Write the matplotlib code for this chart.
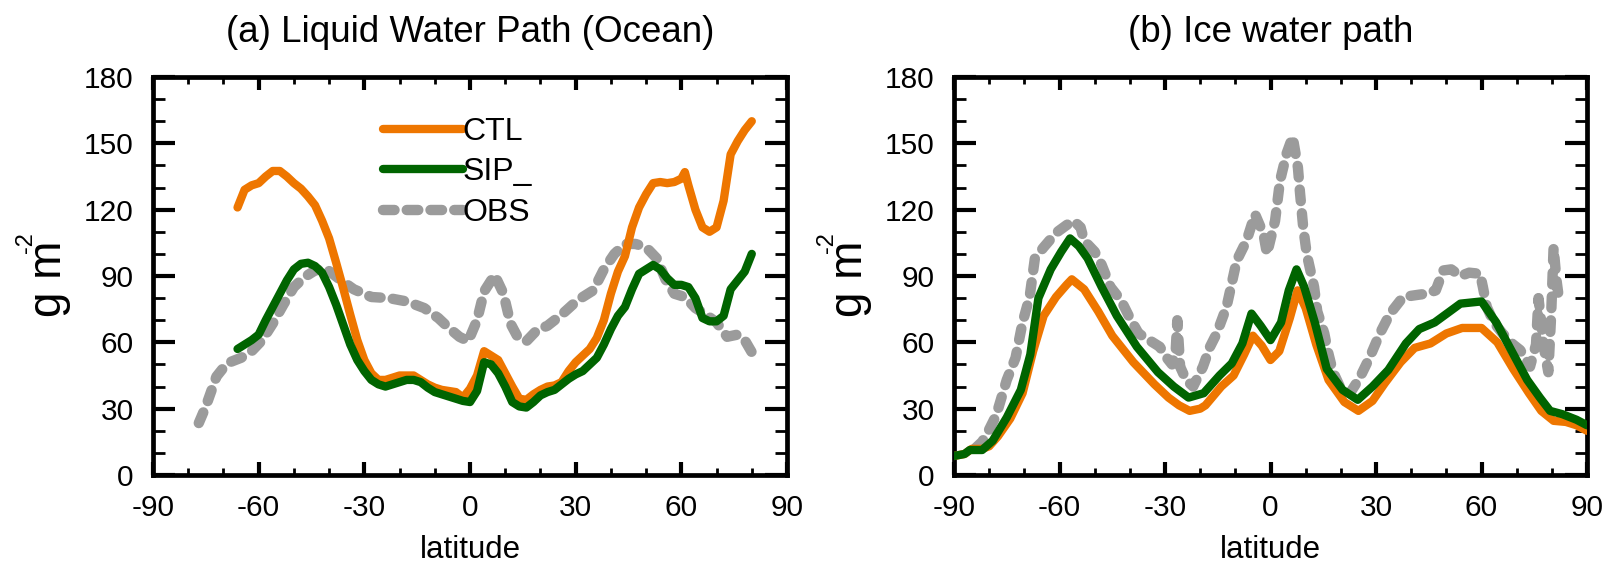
import matplotlib
matplotlib.use("Agg")
import matplotlib.pyplot as plt
from matplotlib.ticker import MultipleLocator

plt.rcParams['font.family'] = ['Liberation Sans', 'DejaVu Sans']
plt.rcParams['lines.scale_dashes'] = False

# ---------------- data: (a) Liquid Water Path (Ocean) ----------------
ctl_a_lat = [-66,-64,-62,-60,-58,-56,-54,-52,-50,-48,-46,-44,-42,-40,-38,-36,-34,-32,-30,-28,
             -26,-24,-22,-20,-18,-16,-14,-12,-10,-8,-6,-4,-2,0,2,4,6,8,10,12,14,16,18,20,22,24,
             26,28,30,32,34,36,38,40,42,44,46,48,50,52,54,56,58,60,61,62,64,66,68,70,72,74,76,78,80]
ctl_a_val = [121,129,131,132,135,137.5,137.5,135,132,129.5,126,122,115,107,96,84.5,72.5,61,52,46,
             43,43,44,45,45,45,43,41,39.5,38.5,38,37.5,35,39,45,56,54,52,46,40,34.5,34,36.5,38.5,40,40.5,
             42,47,51,54,57,62,70,82,92,99,112,121,127,132,132.5,132,132.5,134,137,131,120,112,110,112,124,145,151,156,160]

sip_a_lat = [-66,-64,-62,-60,-58,-56,-54,-52,-50,-48,-46,-44,-42,-40,-38,-36,-34,-32,-30,-28,
             -26,-24,-22,-20,-18,-16,-14,-12,-10,-8,-6,-4,-2,0,2,4,6,8,10,12,14,16,18,20,22,24,
             26,28,30,32,34,36,38,40,42,44,46,48,50,52,54,56,58,60,62,64,66,68,70,72,74,76,78,80]
sip_a_val = [57,59,61,63.5,70,76,82,88,93,95.5,96,94.5,91.5,85,77,68,59,52,47,43,
             41,40,41,42,43,43,42,39.5,37.5,36.5,35.5,34.5,33.5,33,38,51,50,46,40,33,31,30.5,33,36,37.5,38.5,
             41,43.5,45.5,47,50,53,59,66,72,76,84,91,93,95,93,89,86,86,85,80,71,69.5,69.5,72,84,88,92,100]

obs_a_lat = [-77,-75,-72,-69,-65,-62,-59,-56,-53,-50,-47,-44,-41,-37,-33,-28,-23,-18,-13,-9,
             -6,-3,-0.5,2,4,7,9.5,11.5,13.5,16,19,22,26,30.5,35,38,41,44,47,50,
             53,55.5,58,61,64,67,70,73,76,78,80]
obs_a_val = [23.5,31,44.5,50.5,53,56,61,68.5,77,85,89.5,92.5,93.5,88.5,84,80.5,80,78.5,75.5,71,
             66.5,62.5,60.5,70,83,90.5,82,68.5,62.5,60.5,65.5,67.5,72.5,79,83.5,93,100,104.5,104.5,103,
             98,88.5,82,80.5,75.5,72.5,69,62.5,63.5,61,55.5]

# ---------------- data: (b) Ice water path ----------------
ctl_b_lat = [-90,-87,-85,-82,-80,-77.5,-74,-70.5,-67.5,-64.5,-61,-58,-56.5,-53,-49,-45,-39,-33,-29,-26,
             -23,-20,-18.5,-14,-10.5,-7.5,-5,-2.5,0,2.5,5.5,7.7,10,13,16.5,21,25,29,32.5,37,
             41,45.5,50,54.5,60,64.5,69,73.5,77,80.5,84,87,90]
ctl_b_val = [8.6,9.5,11.8,11.8,13,17.5,25.5,37,56,72,80.5,86,88.5,84,74,63,51,41,35,31.5,
             29,30,31.5,40,45,54.5,63,58.5,52,56,71,83.5,75.5,59,43,33,29,33.5,41.5,51,
             57.5,59.5,64,66.5,66.5,60,48,37,29,24.5,24,22.5,20]

sip_b_lat = [-90,-87,-85.5,-82,-79,-75,-71,-68.3,-66,-62.5,-59.5,-57,-54.5,-52,-48,-43.7,-38,-32,-27.5,-23.3,
             -19,-14.5,-11,-8,-5.4,-2.8,0,3,5.2,7.4,9.6,12.6,16,20.5,24.8,29,33.5,38.5,42.3,46.7,
             51,54,60,64.2,68.6,73,76.6,79.5,83,87,90]
sip_b_val = [8.6,9.5,11.3,11.3,15.5,26,38.5,54.5,80,93,101,107,103.5,98,85,72,58,46.5,40,35,
             37,45,50.5,59.5,73,67.5,61,69,83.5,93,85,69,48,38.5,34,40,47.5,59.5,66,69,
             74,77.5,78.5,69,56,43,35,29,27.5,25,22.5]

obs_b_lat = [-84,-82,-80.5,-78,-75,-72.5,-70.5,-68.5,-67,-64.5,-61,-58,-56,-54,-53,-50,-48,-45.5,-42.5,-40,
             -37.5,-34.5,-31.5,-29.5,-28,-27,-26.5,-25.7,-24,-22,-19.2,-17.2,-15.3,-12.5,-9.6,-6.8,-4.4,-2,-1,1.3,
             2.7,4.6,6.3,7.8,8.4,9.3,10.3,12.4,13.3,15.3,16.3,17.7,20,22.6,25.4,28.3,31.1,34,37.7,42,
             44.4,47,49.1,51.4,54,56.5,59.6,60.4,61.5,63.5,66,69,71,73.8,75.5,76.2,77,77.6,79,79.8,
             80.5,81.3,82]
obs_b_val = [12,15,19,27,43,53,69,80.5,98,103,109.5,113,115,112,106,101,95,85,79,71,
             64,61,58,53,50,55,70,49,43,40,49,58,64,76,97,106,118,109,100,115,
             133,145.5,153,139,127.5,112,100,85,74,64,56,47,39,37,44,53.5,64,73,80.5,81.5,
             82,83.5,92.5,93,90,91.5,91,85,76,69,64,59,56.5,49,59,80,69,59,46.5,72,
             103,88.5,80]

titles = ["(a) Liquid Water Path (Ocean)", "(b) Ice water path"]
labels = ["CTL", "SIP_", "OBS"]
xticks = [-90, -60, -30, 0, 30, 60, 90]
yticks = [0, 30, 60, 90, 120, 150, 180]

C_CTL = "#EE7600"
C_SIP = "#006400"
C_OBS = "#9B9B9B"

W, H = 1602, 562
fig = plt.figure(figsize=(W / 100, H / 100), dpi=100)

def px_ax(left, top, right, bottom):
    return [left / W, (H - bottom) / H, (right - left) / W, (bottom - top) / H]

ax1 = fig.add_axes(px_ax(153, 77, 787, 475))
ax2 = fig.add_axes(px_ax(954, 77, 1587, 475))

panels = [
    (ax1, (ctl_a_lat, ctl_a_val), (sip_a_lat, sip_a_val), (obs_a_lat, obs_a_val)),
    (ax2, (ctl_b_lat, ctl_b_val), (sip_b_lat, sip_b_val), (obs_b_lat, obs_b_val)),
]

for i, (ax, ctl, sip, obs) in enumerate(panels):
    lo, = ax.plot(obs[0], obs[1], color=C_OBS, lw=7.5, linestyle=(0, (8.3, 8.8)),
                  dash_capstyle='round', dash_joinstyle='round', zorder=2)
    lc, = ax.plot(ctl[0], ctl[1], color=C_CTL, lw=6, solid_capstyle='round',
                  solid_joinstyle='round', zorder=3)
    ls, = ax.plot(sip[0], sip[1], color=C_SIP, lw=6, solid_capstyle='round',
                  solid_joinstyle='round', zorder=4)
    ax.set_xlim(-90, 90)
    ax.set_ylim(0, 180)
    ax.set_xticks(xticks)
    ax.set_xticklabels([str(t) for t in xticks])
    ax.set_yticks(yticks)
    ax.set_yticklabels([str(t) for t in yticks])
    ax.xaxis.set_minor_locator(MultipleLocator(10))
    ax.yaxis.set_minor_locator(MultipleLocator(10))
    ax.tick_params(axis='both', which='both', direction='in', top=True, right=True,
                   labelsize=21.5)
    ax.tick_params(axis='x', which='major', length=9.5, width=3, pad=14)
    ax.tick_params(axis='x', which='minor', length=5, width=2)
    ax.tick_params(axis='y', which='major', length=16, width=3, pad=14)
    ax.tick_params(axis='y', which='minor', length=8.5, width=2)
    for sp in ax.spines.values():
        sp.set_linewidth(3.4)
    ax.text(0.5, 1.0887, titles[i], transform=ax.transAxes, ha='center',
            va='baseline', fontsize=26.5)
    ax.text(0.5, -0.2085, "latitude", transform=ax.transAxes, ha='center',
            va='baseline', fontsize=22.5)
    # y label "g m^-2"
    xoff = 0 if i == 0 else 801
    fig.text((61 + xoff) / W, (H - 317) / H, "g m", rotation=90, rotation_mode='anchor',
             ha='left', va='baseline', fontsize=33)
    fig.text((32 + xoff) / W, (H - 253) / H, "-2", rotation=90, rotation_mode='anchor',
             ha='left', va='baseline', fontsize=17)
    if i == 0:
        ax.legend([lc, ls, lo], labels, loc='upper left',
                  bbox_to_anchor=((383 - 153) / 634, 0.90), frameon=False,
                  fontsize=23, handlelength=2.5, handletextpad=0.0, borderpad=0,
                  borderaxespad=0, labelspacing=0.33)

fig.savefig("out.png", dpi=100)
